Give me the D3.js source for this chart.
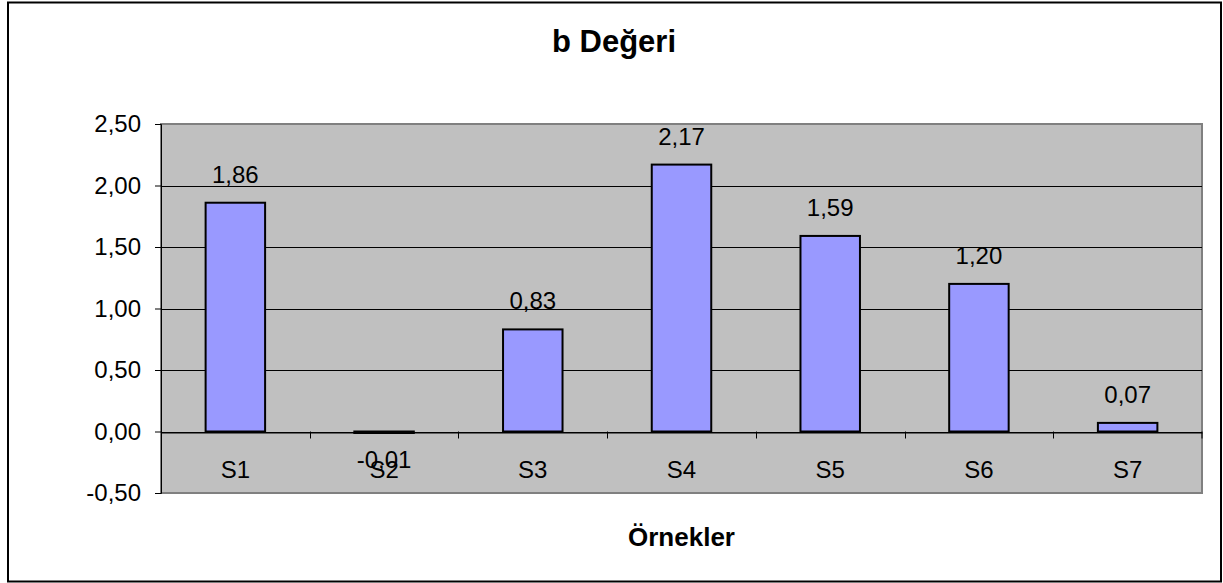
<!DOCTYPE html>
<html>
<head>
<meta charset="utf-8">
<script src="https://cdn.jsdelivr.net/npm/d3@7"></script>
<style>
  body { margin: 0; background: #fff; }
  svg { display: block; font-family: "Liberation Sans", Arial, sans-serif; }
</style>
</head>
<body>
<svg id="chart" width="1223" height="583"></svg>
<script>
// data
const categories = ['S1', 'S2', 'S3', 'S4', 'S5', 'S6', 'S7'];
const values = [1.86, -0.01, 0.83, 2.17, 1.59, 1.20, 0.07];
const yTicks = [-0.5, 0, 0.5, 1, 1.5, 2, 2.5];
const chartTitle = 'b Değeri';
const xTitle = 'Örnekler';

const svg = d3.select('#chart');

// plot area
const padLeft = 161,
  padRight = 1202,
  padTop = 124,
  padBottom = 493;

const locale = d3.formatLocale({ decimal: ',', thousands: '.', grouping: [3], currency: ['', ''], minus: '-' });
const fmt = locale.format('.2f');
const fs = '24px';

// outer border
svg.append('rect')
  .attr('x', 8).attr('y', 2.5)
  .attr('width', 1213).attr('height', 579)
  .attr('fill', '#fff')
  .attr('stroke', '#000')
  .attr('stroke-width', 2);

// scales
const x = d3.scaleBand()
  .domain(categories)
  .range([padLeft, padRight])
  .paddingInner(0.6)
  .paddingOuter(0.3);

const xCat = d3.scaleBand()
  .domain(categories)
  .range([padLeft, padRight]);

const y = d3.scaleLinear()
  .domain([-0.5, 2.5])
  .range([padBottom, padTop]);

// plot background
svg.append('rect')
  .attr('x', padLeft).attr('y', padTop)
  .attr('width', padRight - padLeft).attr('height', padBottom - padTop)
  .attr('fill', '#c0c0c0')
  .attr('stroke', '#808080')
  .attr('stroke-width', 2);

// gridlines
svg.append('g')
  .selectAll('line')
  .data(yTicks.filter(d => d > -0.5 && d < 2.5))
  .join('line')
  .attr('x1', padLeft).attr('x2', padRight)
  .attr('y1', d => Math.round(y(d)) + 0.5)
  .attr('y2', d => Math.round(y(d)) + 0.5)
  .attr('stroke', '#000')
  .attr('stroke-width', 1);

// y axis
const yAxis = d3.axisLeft(y)
  .tickValues(yTicks)
  .tickSize(6)
  .tickPadding(14)
  .tickFormat(fmt);

const yG = svg.append('g')
  .attr('transform', `translate(${padLeft},0)`)
  .call(yAxis);
yG.attr('font-size', null).attr('font-family', null);
yG.selectAll('text')
  .style('font-size', fs)
  .attr('fill', '#000');
yG.selectAll('line, path').attr('stroke', '#000');

// x axis at zero
const xG = svg.append('g')
  .attr('transform', `translate(0,${Math.round(y(0)) + 0.5})`)
  .call(d3.axisBottom(xCat).tickSize(0).tickFormat(''));
xG.select('.domain').attr('stroke', '#000');

// category separator ticks
svg.append('g')
  .selectAll('line')
  .data(categories.slice(1).concat(['end']))
  .join('line')
  .attr('x1', d => d === 'end' ? padRight : Math.round(xCat(d)) + 0.5)
  .attr('x2', d => d === 'end' ? padRight : Math.round(xCat(d)) + 0.5)
  .attr('y1', y(0))
  .attr('y2', y(0) + 7)
  .attr('stroke', '#000');

// bars
svg.append('g')
  .selectAll('rect')
  .data(values)
  .join('rect')
  .attr('x', (d, i) => x(categories[i]))
  .attr('width', x.bandwidth())
  .attr('y', d => y(Math.max(0, d)))
  .attr('height', d => Math.max(1.5, Math.abs(y(d) - y(0))))
  .attr('fill', '#9999ff')
  .attr('stroke', '#000')
  .attr('stroke-width', 2);

// category labels
svg.append('g')
  .selectAll('text')
  .data(categories)
  .join('text')
  .attr('x', d => xCat(d) + xCat.bandwidth() / 2)
  .attr('y', 478)
  .attr('text-anchor', 'middle')
  .style('font-size', fs)
  .text(d => d);

// data labels
svg.append('g')
  .selectAll('text')
  .data(values)
  .join('text')
  .attr('x', (d, i) => xCat(categories[i]) + xCat.bandwidth() / 2)
  .attr('y', d => d >= 0 ? y(d) - 20 : y(d) + 35)
  .attr('text-anchor', 'middle')
  .style('font-size', fs)
  .text(d => fmt(d));

// titles
svg.append('text')
  .attr('x', 614)
  .attr('y', 52)
  .attr('text-anchor', 'middle')
  .style('font-size', '31px')
  .style('font-weight', 'bold')
  .text(chartTitle);

svg.append('text')
  .attr('x', (padLeft + padRight) / 2)
  .attr('y', 546)
  .attr('text-anchor', 'middle')
  .style('font-size', '26px')
  .style('font-weight', 'bold')
  .text(xTitle);
</script>
</body>
</html>
